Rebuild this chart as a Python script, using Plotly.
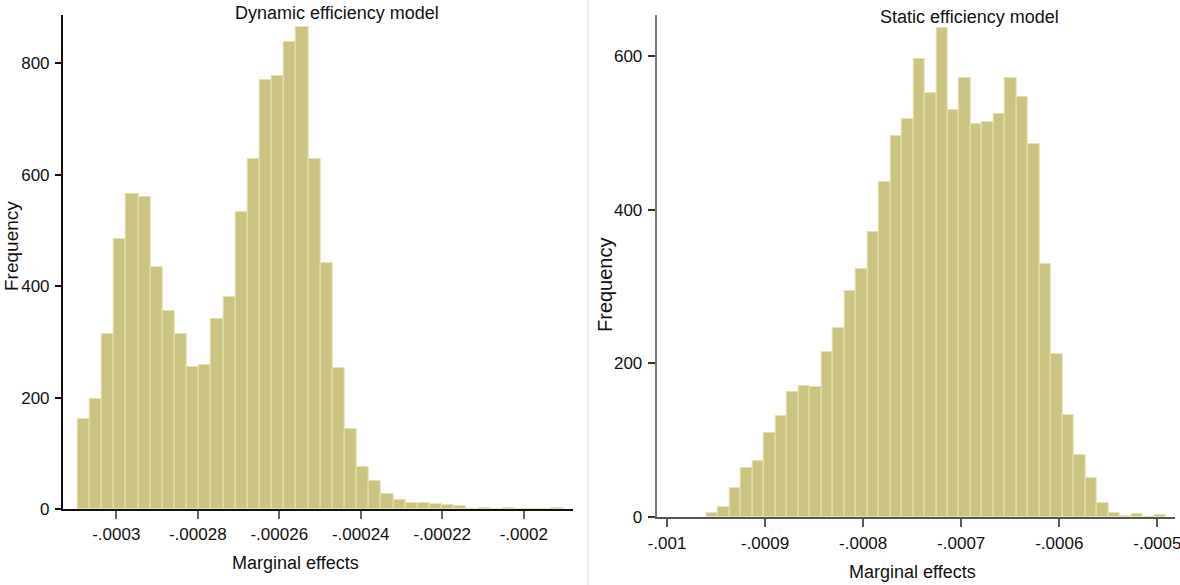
import plotly.graph_objects as go

# ---------------- data ----------------
dyn_bin_start = -0.0003095
dyn_bin_width = 2.98e-6
dyn_counts = [162, 197, 314, 485, 566, 561, 434, 355, 314, 255,
              258, 341, 380, 533, 628, 770, 778, 839, 865, 628,
              441, 253, 144, 75, 51, 27, 16, 12, 11, 9,
              7, 6, 0, 3, 0, 3, 0, 0, 0, 3]

sta_bin_start = -0.0009595
sta_bin_width = 1.1702e-5
sta_counts = [5, 12, 37, 64, 72, 109, 131, 162, 170, 169,
              214, 246, 294, 323, 371, 436, 496, 518, 596, 552,
              636, 530, 571, 511, 514, 525, 572, 546, 486, 329,
              212, 133, 80, 50, 18, 5, 1, 3, 0, 2]

dyn_xticks = [-0.0003, -0.00028, -0.00026, -0.00024, -0.00022, -0.0002]
dyn_xtick_text = ["-.0003", "-.00028", "-.00026", "-.00024", "-.00022", "-.0002"]
dyn_yticks = [0, 200, 400, 600, 800]

sta_xticks = [-0.001, -0.0009, -0.0008, -0.0007, -0.0006, -0.0005]
sta_xtick_text = ["-.001", "-.0009", "-.0008", "-.0007", "-.0006", "-.0005"]
sta_yticks = [0, 200, 400, 600]

titles = ["Dynamic efficiency model", "Static efficiency model"]
x_title = "Marginal effects"
y_title = "Frequency"

# ---------------- style ----------------
W, H = 1180, 585
BAR = "#CAC381"
BAR_LINE = "#E6E1AE"
NARROW = "Liberation Sans Narrow, Arial Narrow, Liberation Sans, Arial, sans-serif"
REG = "Liberation Sans, Arial, sans-serif"


def px_x(p):
    return p / W


def px_y(p):
    return 1 - p / H


dyn_centers = [dyn_bin_start + (i + 0.5) * dyn_bin_width for i in range(len(dyn_counts))]
sta_centers = [sta_bin_start + (i + 0.5) * sta_bin_width for i in range(len(sta_counts))]

fig = go.Figure()
fig.add_trace(go.Bar(x=dyn_centers, y=dyn_counts, width=dyn_bin_width,
                     marker=dict(color=BAR, line=dict(color=BAR_LINE, width=1)),
                     xaxis="x", yaxis="y", showlegend=False, hoverinfo="x+y"))
fig.add_trace(go.Bar(x=sta_centers, y=sta_counts, width=sta_bin_width,
                     marker=dict(color=BAR, line=dict(color=BAR_LINE, width=1)),
                     xaxis="x2", yaxis="y2", showlegend=False, hoverinfo="x+y"))

tickfont = dict(family=NARROW, size=17, color="#111")
TFS = 18

fig.update_layout(
    width=W, height=H,
    margin=dict(l=0, r=0, t=0, b=0, autoexpand=False),
    paper_bgcolor="white", plot_bgcolor="white",
    bargap=0,
    xaxis=dict(domain=[px_x(62.7), px_x(572.7)], range=[-0.00031315, -0.00018798],
               tickvals=dyn_xticks, ticktext=dyn_xtick_text, tickfont=tickfont,
               showline=True, linecolor="#111", linewidth=1.5, ticks="outside",
               ticklen=8, tickcolor="#666", tickwidth=1.5, showgrid=False, zeroline=False,
               anchor="y", ticklabelstandoff=1, automargin=False,
               ticklabeloverflow="allow"),
    yaxis=dict(domain=[px_y(509.3), px_y(15)], range=[0, 886.6],
               tickvals=dyn_yticks, tickfont=tickfont,
               showline=True, linecolor="#111", linewidth=1.5, ticks="outside",
               ticklen=6, tickcolor="#111", tickwidth=1.5, showgrid=False, zeroline=False,
               anchor="x", ticklabelstandoff=2, automargin=False),
    xaxis2=dict(domain=[px_x(656.7), px_x(1175)], range=[-0.0010105, -0.0004820],
                tickvals=sta_xticks, ticktext=sta_xtick_text, tickfont=tickfont,
                showline=True, linecolor="#555", linewidth=2, ticks="outside",
                ticklen=8, tickcolor="#555", tickwidth=1.5, showgrid=False, zeroline=False,
                anchor="y2", ticklabelstandoff=2, automargin=False,
                ticklabeloverflow="allow"),
    yaxis2=dict(domain=[px_y(516.7), px_y(15)], range=[0, 653.4],
                tickvals=sta_yticks, tickfont=tickfont,
                showline=True, linecolor="#777", linewidth=2, ticks="outside",
                ticklen=7, tickcolor="#333", tickwidth=1.5, showgrid=False, zeroline=False,
                anchor="x2", ticklabelstandoff=2, automargin=False),
    shapes=[dict(type="rect", xref="paper", yref="paper",
                 x0=px_x(586.5), x1=px_x(589.5), y0=0, y1=1,
                 fillcolor="#EEF1F4", line=dict(width=0), layer="below")],
    annotations=[
        dict(text=titles[0], x=px_x(337), y=px_y(13), xref="paper", yref="paper",
             showarrow=False, font=dict(family=NARROW, size=TFS, color="#111"),
             xanchor="center", yanchor="middle"),
        dict(text=titles[1], x=px_x(969), y=px_y(17), xref="paper", yref="paper",
             showarrow=False, font=dict(family=NARROW, size=TFS, color="#111"),
             xanchor="center", yanchor="middle"),
        dict(text=x_title, x=px_x(295), y=px_y(563), xref="paper", yref="paper",
             showarrow=False, font=dict(family=NARROW, size=TFS, color="#111"),
             xanchor="center", yanchor="middle"),
        dict(text=x_title, x=px_x(912), y=px_y(572), xref="paper", yref="paper",
             showarrow=False, font=dict(family=NARROW, size=TFS, color="#111"),
             xanchor="center", yanchor="middle"),
        dict(text=y_title, x=px_x(11), y=px_y(246), xref="paper", yref="paper",
             showarrow=False, textangle=-90, font=dict(family=REG, size=19, color="#111"),
             xanchor="center", yanchor="middle"),
        dict(text=y_title, x=px_x(605), y=px_y(285), xref="paper", yref="paper",
             showarrow=False, textangle=-90, font=dict(family=REG, size=20, color="#111"),
             xanchor="center", yanchor="middle"),
    ],
)

fig.write_html("out.html",
               config={"displayModeBar": False},
               post_script="document.body.style.margin='0';document.body.style.padding='0';"
                           "document.documentElement.style.overflow='hidden';")
